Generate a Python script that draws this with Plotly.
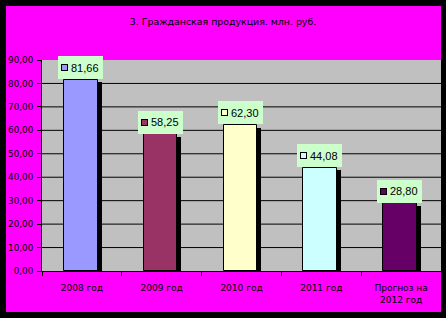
import plotly.graph_objects as go

categories = ["2008 год", "2009 год", "2010 год", "2011 год", "Прогноз на<br>2012 год"]
values = [81.66, 58.25, 62.30, 44.08, 28.80]
value_labels = ["81,66", "58,25", "62,30", "44,08", "28,80"]
colors = ["#9999FF", "#993366", "#FFFFCC", "#CCFFFF", "#660066"]
title_text = "3. Гражданская продукция. млн. руб."
y_ticks = [0, 10, 20, 30, 40, 50, 60, 70, 80, 90]

BAR_W = 0.42
BAR_OFF = -0.224
SHADOW_DX = 0.05
SHADOW_DY = 1.2  # data units (~3px)

fig = go.Figure()
fig.add_trace(go.Bar(
    x=categories, y=[v - SHADOW_DY for v in values],
    width=BAR_W, offset=BAR_OFF + SHADOW_DX,
    marker=dict(color="black", line=dict(width=0)),
    hoverinfo="skip", showlegend=False,
))
fig.add_trace(go.Bar(
    x=categories, y=values,
    width=BAR_W, offset=BAR_OFF,
    marker=dict(color=colors, line=dict(color="black", width=1)),
    showlegend=False,
))

for c, v, lab, col in zip(categories, values, value_labels, colors):
    fig.add_annotation(x=c, y=v, xref="x", yref="y", text=" ", showarrow=False,
                       width=45, height=23, bgcolor="#CCFFCC", borderpad=0, borderwidth=0,
                       xanchor="center", yanchor="middle", xshift=-1.5, yshift=12,
                       font=dict(size=1))
    fig.add_annotation(x=c, y=v, xref="x", yref="y", text=" ", showarrow=False,
                       width=5, height=5, bgcolor=col, bordercolor="black", borderpad=0, borderwidth=1,
                       xanchor="center", yanchor="middle", xshift=-17.5, yshift=12,
                       font=dict(size=1))
    fig.add_annotation(x=c, y=v, xref="x", yref="y", text=lab, showarrow=False,
                       xanchor="center", yanchor="middle", xshift=3, yshift=12,
                       font=dict(family="Arial, Liberation Sans", size=11, color="black"))

# black frame around the magenta chart area (outside plot area)
L, R, T, B = 42, 5, 60, 47
PW, PH = 446 - L - R, 318 - T - B
def px_x(p):
    return (p - L) / PW
def px_y(p):
    return (318 - B - p) / PH
frame = [
    (0, 6, 0, 318),      # left strip
    (441, 446, 0, 318),  # right strip
    (0, 446, 0, 6),      # top strip
    (0, 446, 312, 318),  # bottom strip
]
shapes = [dict(type="rect", xref="paper", yref="paper", layer="above",
               x0=px_x(a), x1=px_x(b), y0=px_y(d), y1=px_y(c),
               fillcolor="black", line=dict(width=0)) for a, b, c, d in frame]
# horizontal gridlines (none at the top edge, as in the original)
shapes += [dict(type="line", xref="paper", yref="y", layer="below",
                x0=0, x1=1, y0=t, y1=t, line=dict(color="black", width=1))
           for t in y_ticks[1:-1]]

fig.update_layout(
    width=446, height=318,
    margin=dict(l=L, r=R, t=T, b=B),
    paper_bgcolor="#FF00FF",
    plot_bgcolor="#C0C0C0",
    separators=", ",
    bargap=0,
    title=dict(text=title_text, x=0.5, xref="container", xanchor="center",
               y=1 - 22 / 318, yref="container", yanchor="middle",
               font=dict(family="DejaVu Sans", size=9.4, color="black")),
    shapes=shapes,
    xaxis=dict(type="category", showline=True, linecolor="black", linewidth=1,
               ticks="outside", tickson="boundaries", ticklen=4, tickcolor="black",
               showgrid=False, ticklabelstandoff=8,
               tickfont=dict(family="DejaVu Sans", size=9, color="black")),
    yaxis=dict(range=[0, 90], tickvals=y_ticks, tickformat=".2f",
               showline=True, linecolor="black", linewidth=1,
               ticks="outside", ticklen=4, tickcolor="black",
               showgrid=False, zeroline=False,
               ticklabelstandoff=2,
               tickfont=dict(family="DejaVu Sans", size=8.8, color="black")),
)

fig.write_html("out.html")
